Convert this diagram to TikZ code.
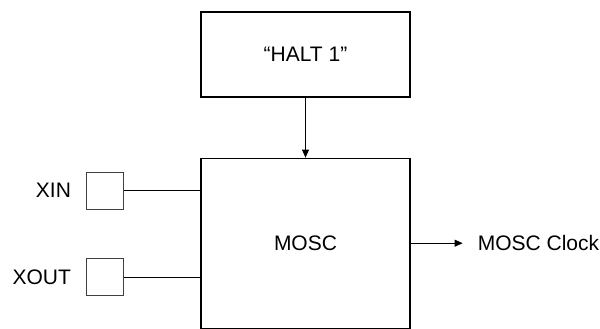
\documentclass[tikz,border=0pt]{standalone}
\usepackage{fontspec}
\setmainfont{Liberation Sans}
\usetikzlibrary{arrows.meta, positioning}

\begin{document}
\begin{tikzpicture}[
  x=1pt, y=-1pt,
  block/.style={rectangle, draw, line width=1.2pt, minimum width=209pt,
                align=center, font=\fontsize{21}{25}\selectfont},
  pad/.style={rectangle, draw=black!75, line width=0.7pt, minimum width=37pt,
              minimum height=37pt},
  lbl/.style={inner sep=0pt, font=\fontsize{21}{25}\selectfont},
  wire/.style={line width=0.8pt},
  arr/.style={-{Triangle[length=8pt, width=7pt]}, line width=0.8pt},
  node distance=60pt
]
  \useasboundingbox (0,0) rectangle (600,329);

  \node[block, minimum height=85pt] (halt) at (305.5,54.5) {“HALT 1"};
  \node[block, minimum height=170pt, below=of halt] (mosc) {MOSC};

  \node[pad] (xinpad)  at (105,190.5) {};
  \node[pad] (xoutpad) at (105,277) {};
  \node[lbl, left=15pt of xinpad]  (xin)  {XIN};
  \node[lbl, left=15pt of xoutpad] (xout) {XOUT};

  \coordinate[right=52pt of mosc.east] (clkend);
  \node[lbl, right=15pt of clkend] (clk) {MOSC Clock};

  \draw[arr]  (halt) -- (mosc);
  \draw[wire] (xinpad)  -- (xinpad -| mosc.west);
  \draw[wire] (xoutpad) -- (xoutpad -| mosc.west);
  \draw[arr]  (mosc.east) -- (clkend);
\end{tikzpicture}
\end{document}
